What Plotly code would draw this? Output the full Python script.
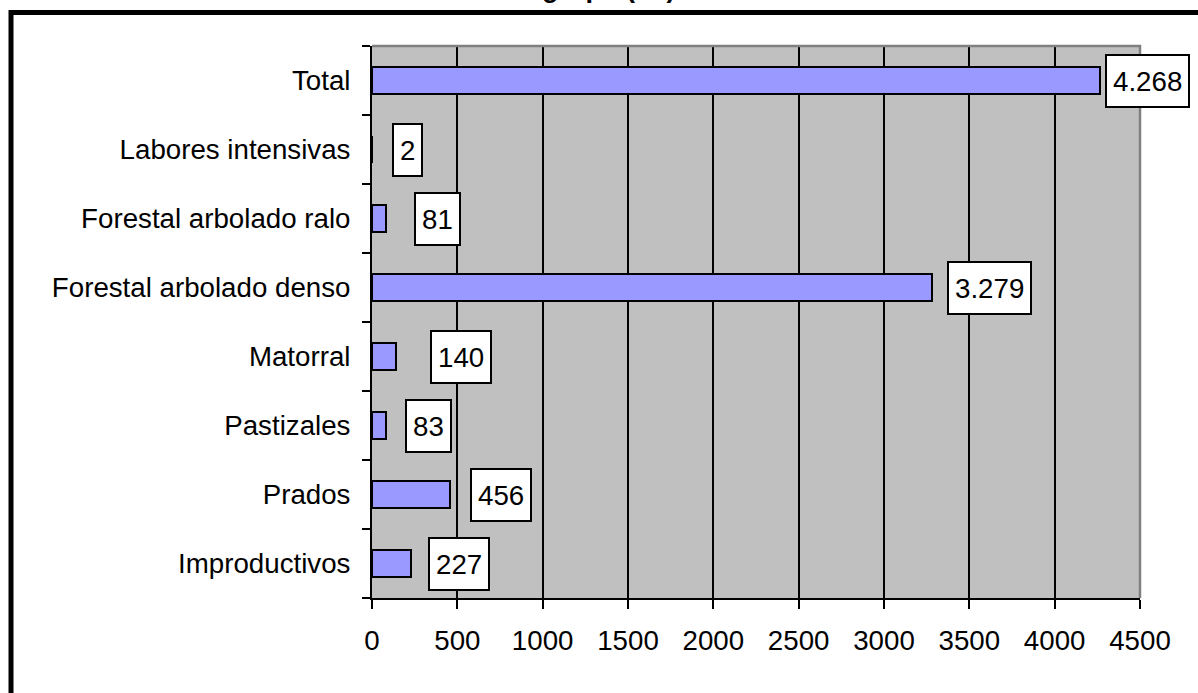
import plotly.graph_objects as go

# Land-use groups (bottom to top) and their areas in hectares
categories = [
    "Improductivos",
    "Prados",
    "Pastizales",
    "Matorral",
    "Forestal arbolado denso",
    "Forestal arbolado ralo",
    "Labores intensivas",
    "Total",
]
areas_ha = [227, 456, 83, 140, 3279, 81, 2, 4268]
x_ticks = [0, 500, 1000, 1500, 2000, 2500, 3000, 3500, 4000, 4500]

# Horizontal gap (px) between each bar end and its value box
label_gap_px = [17, 20, 19, 34, 15, 28, 20, 5]

FONT = "Arial, Liberation Sans, sans-serif"
FS = 27.7
L, R, T, B = 372, 58, 46, 95
W, H = 1198, 693
PW, PH = W - L - R, H - T - B


def px_x(p):
    return (p - L) / PW


def px_y(p):
    return (H - B - p) / PH


def fmt(v):
    return f"{v:,}".replace(",", ".")


fig = go.Figure(
    go.Bar(
        y=categories,
        x=areas_ha,
        orientation="h",
        width=0.39,
        marker=dict(color="#9999FF", line=dict(color="black", width=2)),
        hoverinfo="x+y",
    )
)

for cat, val, gap in zip(categories, areas_ha, label_gap_px):
    fig.add_annotation(
        x=val, y=cat, xref="x", yref="y",
        text=fmt(val), showarrow=False,
        xanchor="left", yanchor="middle", xshift=gap,
        font=dict(family=FONT, size=FS, color="black"),
        bgcolor="white", bordercolor="black", borderwidth=2, borderpad=6,
        height=38,
    )

# Chart title (sits at the very top edge)
fig.add_annotation(
    x=px_x(540), y=px_y(4.5), xref="paper", yref="paper",
    text="<b>grupo (ha)</b>", showarrow=False,
    xanchor="left", yanchor="bottom",
    font=dict(family=FONT, size=27, color="black"),
)

# Outer chart frame
fig.add_shape(
    type="rect", xref="paper", yref="paper",
    x0=px_x(11), x1=px_x(1260), y0=px_y(760), y1=px_y(12.5),
    line=dict(color="black", width=5), fillcolor="rgba(0,0,0,0)", layer="above",
)
# Grey plot-area edges on top and right
fig.add_shape(
    type="path", xref="paper", yref="paper",
    path="M 0 1 L 1 1 L 1 0",
    line=dict(color="#808080", width=2.5), layer="above",
)

fig.update_layout(
    width=W, height=H,
    margin=dict(l=L, r=R, t=T, b=B),
    paper_bgcolor="white",
    plot_bgcolor="#C0C0C0",
    showlegend=False,
    bargap=0,
    font=dict(family=FONT, size=FS, color="black"),
    xaxis=dict(
        range=[0, 4500],
        tickvals=x_ticks,
        ticktext=[str(t) for t in x_ticks],
        showgrid=True, gridcolor="black", gridwidth=2,
        zeroline=False,
        showline=True, linecolor="black", linewidth=2,
        ticks="outside", ticklen=9, tickwidth=2, tickcolor="black",
        ticklabelstandoff=8,
        tickfont=dict(family=FONT, size=FS, color="black"),
        fixedrange=True,
    ),
    yaxis=dict(
        type="category",
        categoryorder="array", categoryarray=categories,
        range=[-0.5, len(categories) - 0.5],
        showgrid=False, zeroline=False,
        showline=True, linecolor="black", linewidth=2,
        ticks="outside", tickson="boundaries", ticklen=8, tickwidth=2,
        tickcolor="black",
        ticklabelstandoff=14,
        tickfont=dict(family=FONT, size=FS, color="black"),
        fixedrange=True,
    ),
)

fig.write_html("out.html")
